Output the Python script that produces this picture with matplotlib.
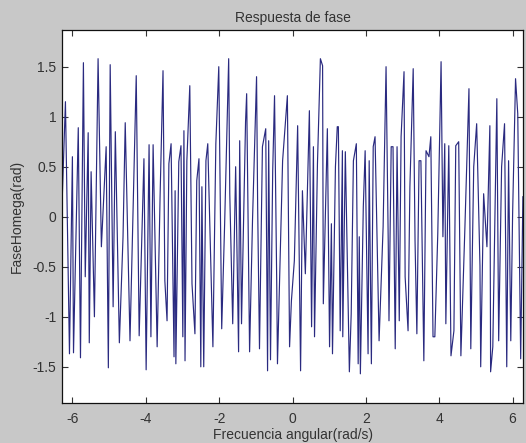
import numpy as np
import matplotlib
matplotlib.use("Agg")
import matplotlib.pyplot as plt

# vertices of the phase trace (rad/s, rad)
freq = [-6.28, -6.19, -6.08, -6.00, -5.97, -5.84, -5.78, -5.70, -5.65, -5.57,
        -5.54, -5.49, -5.40, -5.30, -5.21, -5.08, -5.02, -4.97, -4.89, -4.83,
        -4.72, -4.62, -4.56, -4.43, -4.26, -4.18, -4.05, -3.99, -3.91, -3.86,
        -3.80, -3.69, -3.61, -3.53, -3.48, -3.42, -3.37, -3.31, -3.23, -3.20,
        -3.18, -3.10, -3.04, -2.99, -2.96, -2.93, -2.88, -2.80, -2.74, -2.66,
        -2.61, -2.55, -2.50, -2.47, -2.42, -2.36, -2.31, -2.17, -2.09, -2.01,
        -1.93, -1.85, -1.74, -1.71, -1.63, -1.55, -1.47, -1.44, -1.39, -1.28,
        -1.25, -1.17, -1.09, -0.98, -0.95, -0.90, -0.82, -0.73, -0.68, -0.65,
        -0.60, -0.54, -0.49, -0.43, -0.41, -0.27, -0.19, -0.14, -0.08, -0.03,
        0.05, 0.14, 0.22, 0.27, 0.35, 0.46, 0.52, 0.57, 0.60, 0.68,
        0.76, 0.82, 0.84, 0.95, 1.01, 1.06, 1.09, 1.17, 1.22, 1.25,
        1.30, 1.36, 1.37, 1.44, 1.55, 1.60, 1.66, 1.74, 1.79, 1.82,
        1.85, 1.93, 1.98, 2.06, 2.09, 2.15, 2.20, 2.25, 2.36, 2.47,
        2.55, 2.61, 2.63, 2.69, 2.74, 2.80, 2.85, 2.91, 2.96, 3.04,
        3.07, 3.15, 3.20, 3.29, 3.34, 3.39, 3.45, 3.50, 3.58, 3.64,
        3.72, 3.77, 3.83, 3.88, 3.96, 4.05, 4.10, 4.15, 4.18, 4.26,
        4.32, 4.40, 4.45, 4.53, 4.59, 4.70, 4.81, 4.86, 4.94, 5.02,
        5.11, 5.13, 5.21, 5.30, 5.38, 5.40, 5.46, 5.57, 5.62, 5.70,
        5.78, 5.84, 5.89, 5.95, 6.00, 6.08, 6.14, 6.22, 6.28]
fase = [0.15, 1.15, -1.37, 0.60, -1.36, 0.89, -1.41, 1.54, -0.60, 0.84,
        -1.26, 0.45, -1.00, 1.58, -0.30, 0.70, -1.51, 1.52, -0.90, 0.85,
        -1.26, -0.20, 0.94, -1.24, 1.41, -1.19, 0.58, -1.53, 0.72, -1.20,
        0.72, -1.30, 0.20, 1.46, -0.64, -1.04, 0.53, 0.73, -1.40, 0.26,
        -1.47, 0.55, 0.71, -1.20, 0.86, -1.44, 0.56, 1.31, -0.67, -1.17,
        0.36, 0.58, -1.50, 0.30, -1.50, 0.56, 0.73, -1.30, 0.73, 1.50,
        -1.12, -0.07, 1.58, 0.23, -1.07, 0.50, -1.35, 0.76, -1.07, 0.95,
        1.23, -1.35, -0.03, 1.40, 0.10, -1.32, 0.70, 0.88, -1.54, 0.76,
        -1.43, 0.46, 1.21, -0.67, -1.47, 0.56, 0.96, 1.21, -1.30, -0.84,
        -0.44, 0.91, -1.54, 0.26, -0.57, 1.06, -1.10, 0.70, -1.20, 0.53,
        1.58, 1.51, -0.87, 0.88, -1.30, -0.07, -1.37, 0.50, 0.90, 0.90,
        -1.14, 0.66, -1.20, 0.65, -1.55, -0.97, 0.56, 0.73, -1.47, -0.20,
        -1.57, 0.10, 0.66, -1.37, 0.56, -1.47, 0.70, 0.80, -1.24, -0.10,
        1.50, -0.27, -1.04, 0.70, 0.70, -1.32, 0.70, -1.04, 0.80, 1.45,
        -0.60, -1.14, 0.30, 1.48, -0.24, -1.17, 0.56, 0.56, -1.44, 0.66,
        0.60, 0.80, -1.20, -1.20, -0.17, 1.55, -0.20, 0.73, -1.07, 0.71,
        -1.39, -1.14, 0.71, 0.75, -1.39, -0.10, 1.28, -1.32, 0.50, 0.93,
        -0.49, -1.50, 0.23, -0.30, 0.91, -1.55, -1.30, 1.18, -1.24, 0.50,
        0.93, -1.50, 0.56, -1.24, 0.03, 1.38, 1.03, -1.42, 0.20]

xticks = [-6, -4, -2, 0, 2, 4, 6]
yticks = [-1.5, -1, -0.5, 0, 0.5, 1, 1.5]

plt.rcParams['font.family'] = ['Liberation Sans', 'DejaVu Sans']

fig = plt.figure(figsize=(5.26, 4.43), dpi=100, facecolor='#c8c8c8')
ax = fig.add_axes([0.1179, 0.0896, 0.8764, 0.8416])
ax.set_facecolor('white')
ax.plot(freq, fase, color='#2a2a80', lw=0.85)

ax.set_xlim(-2 * np.pi, 2 * np.pi)
ax.set_ylim(-1.865, 1.862)
ax.set_xticks(xticks)
ax.set_xticklabels([str(t) for t in xticks])
ax.set_yticks(yticks)
ax.set_yticklabels([('%g' % t) for t in yticks])
ax.tick_params(direction='in', top=True, right=True, length=4, width=0.8,
               labelsize=10, colors='#333333')
ax.tick_params(axis='x', pad=6)
ax.tick_params(axis='y', pad=4)
for s in ax.spines.values():
    s.set_linewidth(0.9)
    s.set_color('#111111')

ax.set_title('Respuesta de fase', fontsize=10, color='#333333', pad=6)
ax.set_xlabel('Frecuencia angular(rad/s)', fontsize=10, color='#333333', labelpad=2)
ax.set_ylabel('FaseHomega(rad)', fontsize=10, color='#333333', labelpad=6)

fig.savefig('out.png', dpi=100, facecolor=fig.get_facecolor())
